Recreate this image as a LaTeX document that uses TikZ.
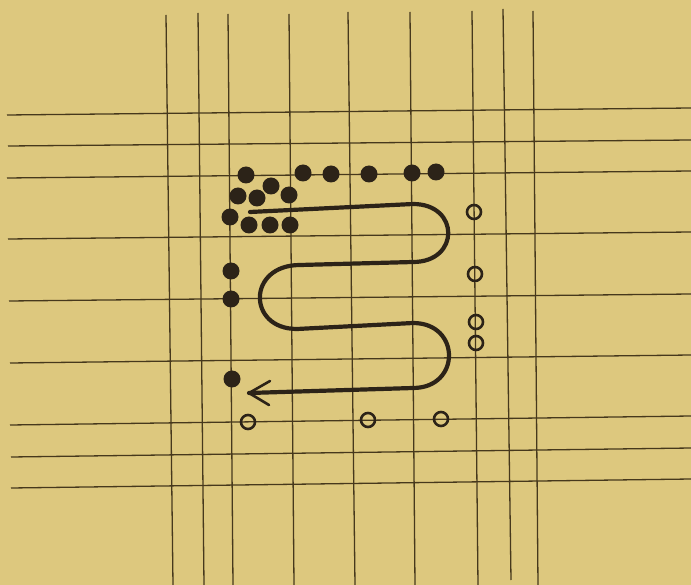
\documentclass[tikz,border=0pt]{standalone}
\definecolor{bg}{RGB}{221,200,126}
\definecolor{ink}{RGB}{70,56,28}
\definecolor{dotc}{RGB}{44,35,24}
\begin{document}
\begin{tikzpicture}[x=1pt,y=-1pt,
  gridline/.style={ink, line width=1.3pt},
  dot/.style={circle, fill=dotc, inner sep=0pt, minimum size=17pt},
  ring/.style={circle, draw=dotc, line width=2.6pt, inner sep=0pt, minimum size=14pt},
  snake/.style={dotc, line width=4.2pt, line cap=round, line join=round},
  barb/.style={dotc, line width=2.6pt, line cap=round}]
\fill[bg] (0,0) rectangle (691,585);
\useasboundingbox (0,0) rectangle (691,585);
% vertical lines
\foreach \a/\b/\c/\d in {166/15/173/585, 198/13/204/585, 228/14/233/585, 289/14/294/585,
  348/12/355/585, 410/12/415/585, 472/11/478/585, 503/9/511/580, 533/11/538/585}
  \draw[gridline] (\a,\b) -- (\c,\d);
% horizontal lines
\foreach \a/\b/\c in {7/115/108, 8/146/140, 7/178/171, 8/239/232, 9/301/294,
  10/363/355, 10/425/416, 11/457/448, 11/488/479}
  \draw[gridline] (\a,\b) -- (691,\c);
% filled dots
\foreach \n/\x/\y in {d1/246/175, d2/303/173, d3/331/174, d4/369/174, d5/412/173, d6/436/172,
  d7/271/186, d8/238/196, d9/257/198, d10/289/195,
  d11/230/217, d12/249/225, d13/270/225, d14/290/225,
  d15/231/271, d16/231/299, d17/232/379}
  \node[dot] (\n) at (\x,\y) {};
% open circles
\foreach \n/\x/\y in {r1/474/212, r2/475/274, r3/476/322, r4/476/343,
  r5/248/422, r6/368/420, r7/441/419}
  \node[ring] (\n) at (\x,\y) {};
% serpentine path
\coordinate (s) at (250,212);
\coordinate (t) at (249,393);
\draw[snake] (s) -- (413,204)
  .. controls (460,204) and (460,262) .. (413,262) -- (300,265)
  .. controls (247,265) and (247,329) .. (297,329) -- (413,323)
  .. controls (461,323) and (461,388) .. (413,388) -- (t);
\draw[barb] (t) -- (270,381);
\draw[barb] (t) -- (269,405);
\end{tikzpicture}
\end{document}
